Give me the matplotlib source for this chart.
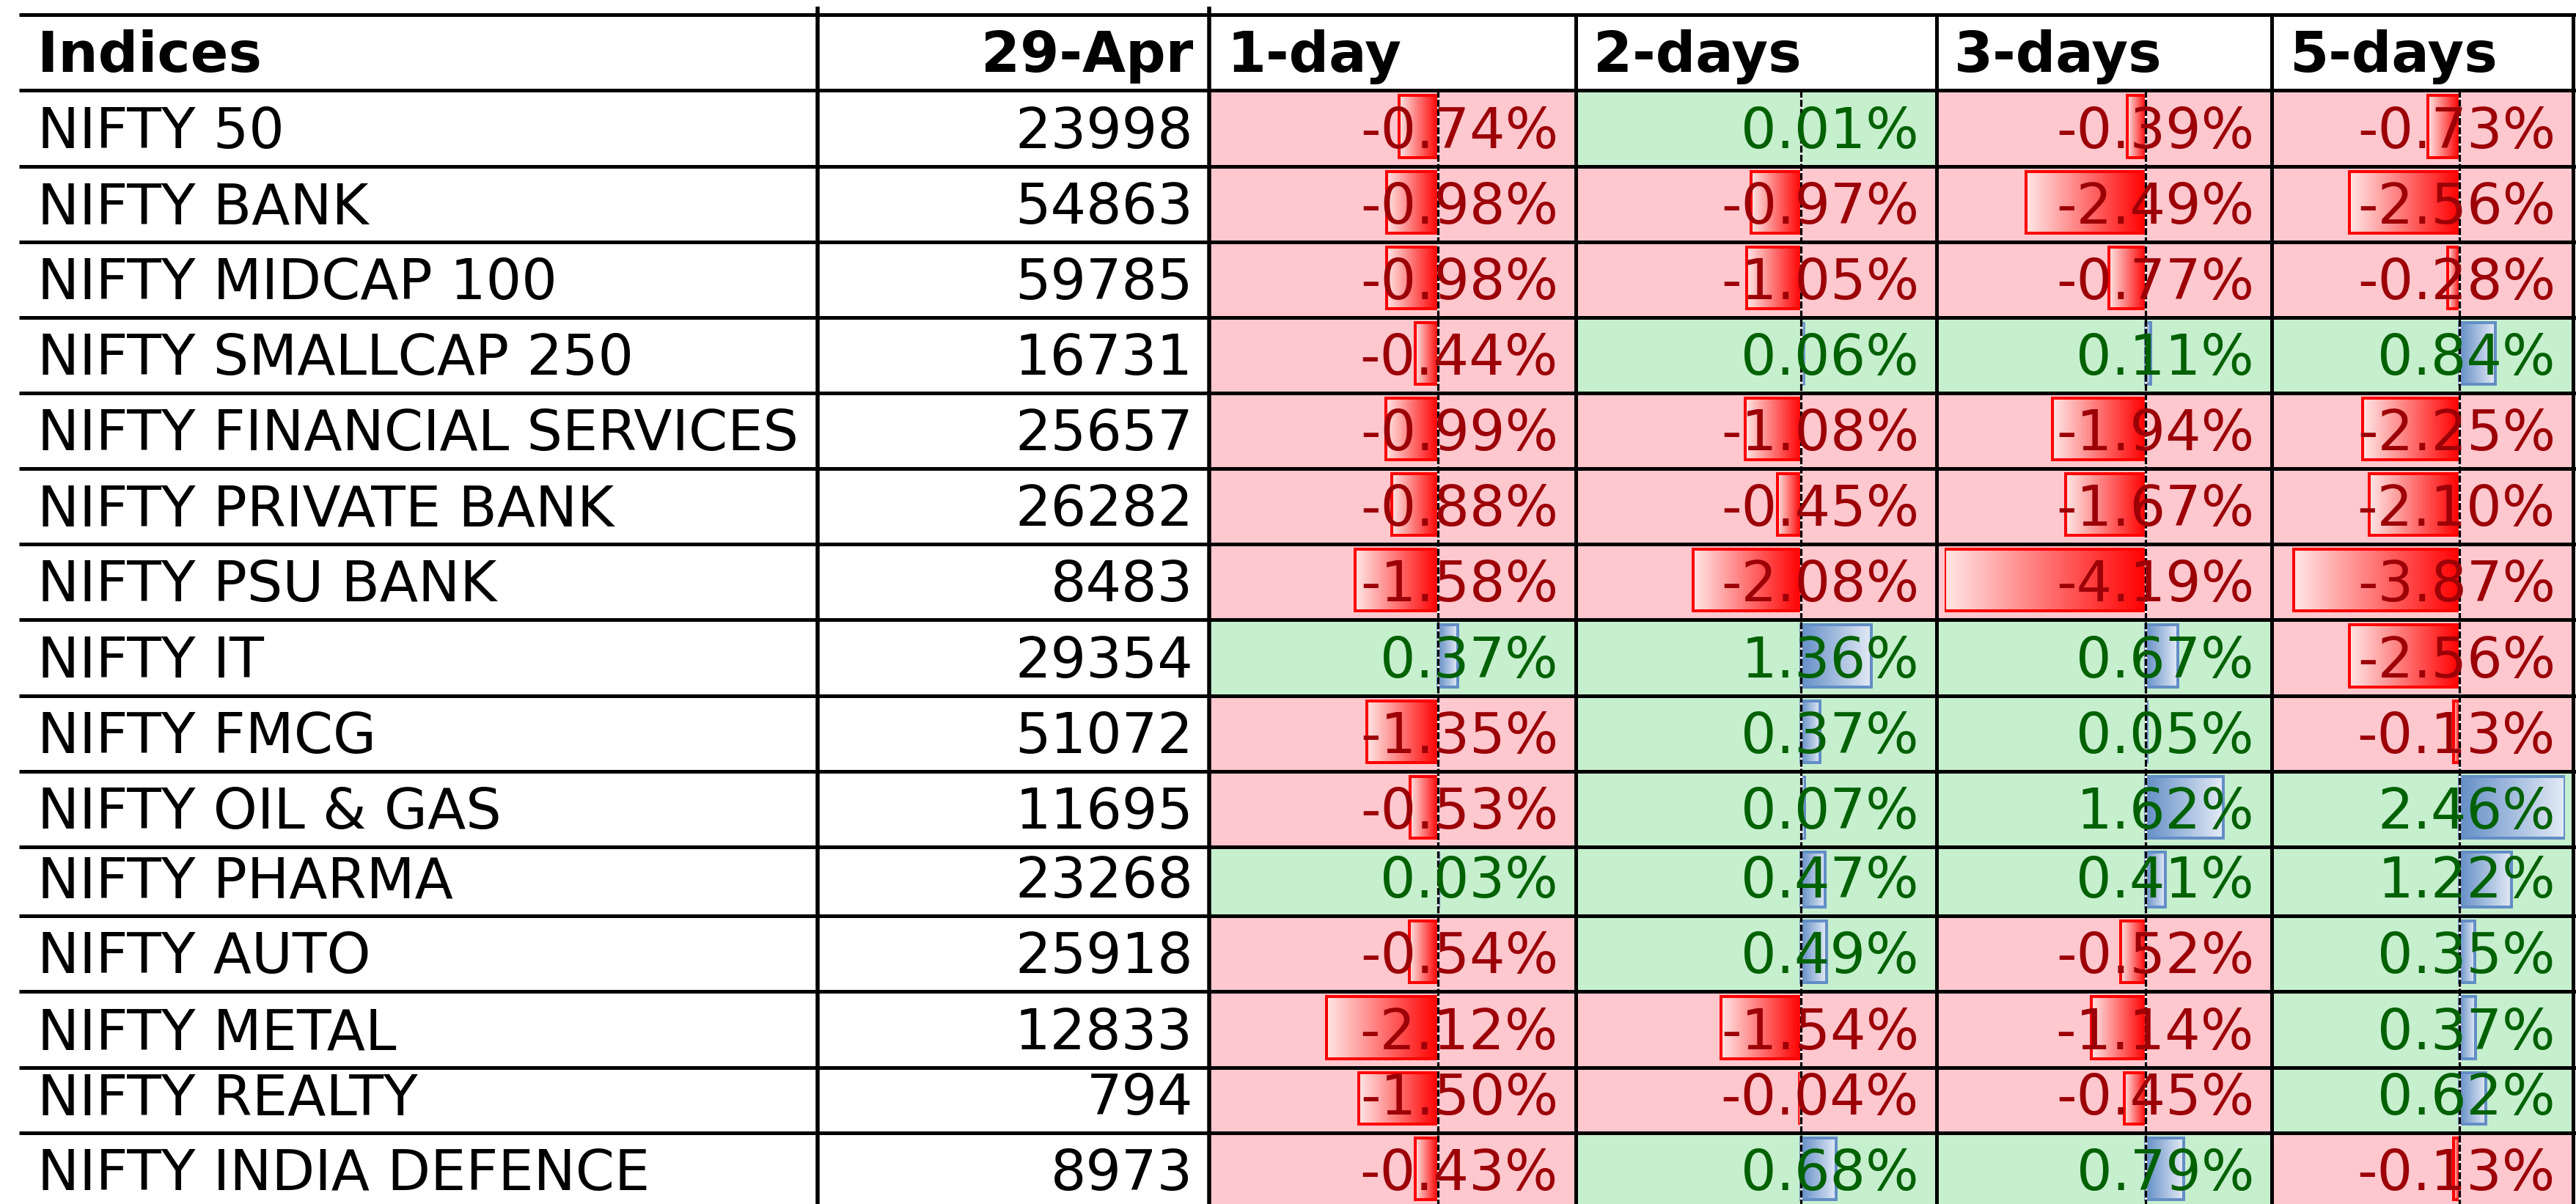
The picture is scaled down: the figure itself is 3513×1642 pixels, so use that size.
import numpy as np
import matplotlib
matplotlib.use("Agg")
import matplotlib.pyplot as plt
from matplotlib.colors import LinearSegmentedColormap
from matplotlib.transforms import Bbox, TransformedBbox
from matplotlib.patches import Rectangle

# ---- data ----
indices = [
    "NIFTY 50", "NIFTY BANK", "NIFTY MIDCAP 100", "NIFTY SMALLCAP 250",
    "NIFTY FINANCIAL SERVICES", "NIFTY PRIVATE BANK", "NIFTY PSU BANK",
    "NIFTY IT", "NIFTY FMCG", "NIFTY OIL & GAS", "NIFTY PHARMA",
    "NIFTY AUTO", "NIFTY METAL", "NIFTY REALTY", "NIFTY INDIA DEFENCE",
]
close_29apr = [23998, 54863, 59785, 16731, 25657, 26282, 8483, 29354,
               51072, 11695, 23268, 25918, 12833, 794, 8973]
chg_1d = [-0.74, -0.98, -0.98, -0.44, -0.99, -0.88, -1.58, 0.37,
          -1.35, -0.53, 0.03, -0.54, -2.12, -1.50, -0.43]
chg_2d = [0.01, -0.97, -1.05, 0.06, -1.08, -0.45, -2.08, 1.36,
          0.37, 0.07, 0.47, 0.49, -1.54, -0.04, 0.68]
chg_3d = [-0.39, -2.49, -0.77, 0.11, -1.94, -1.67, -4.19, 0.67,
          0.05, 1.62, 0.41, -0.52, -1.14, -0.45, 0.79]
chg_5d = [-0.73, -2.56, -0.28, 0.84, -2.25, -2.10, -3.87, -2.56,
          -0.13, 2.46, 1.22, 0.35, 0.37, 0.62, -0.13]
headers = ["Indices", "29-Apr", "1-day", "2-days", "3-days", "5-days"]

changes = [chg_1d, chg_2d, chg_3d, chg_5d]

# ---- layout (pixels) ----
W, H = 3513, 1642
row_lines = [20, 123.3, 226.7, 330, 432.7, 536, 639.3, 742.3, 845.3,
             948.7, 1051.7, 1155, 1249.3, 1352.3, 1456, 1545.3]
last_bottom = 1648
col_lines = [1115, 1649, 2149, 2641, 3098, 3509]
left_edge = 26
pad = 11

PINK, GREEN = "#FFC7CE", "#C6EFCE"
RED_TXT, GREEN_TXT = "#9C0006", "#006100"
BAR_RED, BAR_BLUE = "#FF0000", "#638EC6"
FS = 55
PX = 72 / 100  # points per pixel at dpi 100

plt.rcParams["font.family"] = ["DejaVu Sans"]
plt.rcParams["lines.scale_dashes"] = False

neg_cmap = LinearSegmentedColormap.from_list("neg", ["#FFE6E6", BAR_RED])
pos_cmap = LinearSegmentedColormap.from_list("pos", [BAR_BLUE, "#E4EBF6"])
grad = np.linspace(0, 1, 256).reshape(1, -1)


def row_span(i):
    top = row_lines[i + 1]
    bot = row_lines[i + 2] if i + 2 < len(row_lines) else last_bottom
    return top, bot


fig = plt.figure(figsize=(W / 100, H / 100), dpi=100)
fig.patch.set_facecolor("white")

bg = fig.add_axes([0, 0, 1, 1], zorder=0)
top = fig.add_axes([0, 0, 1, 1], zorder=3)
for a in (bg, top):
    a.set_xlim(0, W)
    a.set_ylim(H, 0)
    a.axis("off")

vmin = min(min(c) for c in changes)
vmax = max(max(c) for c in changes)

for j, col in enumerate(changes):
    cx0, cx1 = col_lines[j + 1], col_lines[j + 2]
    # cell fills
    for i, v in enumerate(col):
        y0, y1 = row_span(i)
        bg.add_patch(Rectangle((cx0, y0), cx1 - cx0, y1 - y0,
                               facecolor=PINK if v < 0 else GREEN,
                               edgecolor="none"))
    # data bars in their own axes, scaled to the common min/max
    x0, x1 = cx0 + pad, cx1 - pad
    bax = fig.add_axes([x0 / W, 0, (x1 - x0) / W, 1], zorder=1)
    px_per_unit = (x1 - x0) / (vmax - vmin)
    for i, v in enumerate(col):
        y0, y1 = row_span(i)
        yt, yb = y0 + 7, y1 - 12
        cmap = neg_cmap if v < 0 else pos_cmap
        bax.imshow(grad, extent=(min(v, 0), max(v, 0), yb, yt),
                   aspect="auto", cmap=cmap, interpolation="bilinear", zorder=2)
        lw_px = min(4.0, abs(v) * px_per_unit * 0.6)
        bax.barh((yt + yb) / 2, v, height=yb - yt, left=0, fill=False,
                 edgecolor=BAR_RED if v < 0 else BAR_BLUE,
                 linewidth=lw_px * PX, zorder=3)
    bax.vlines(0, row_lines[1], H, colors="white", lw=3.2 * PX, zorder=4)
    bax.vlines(0, row_lines[1], H, colors="black", lw=3.2 * PX,
               linestyles=[(0, (7, 2))], zorder=5)
    bax.set_xlim(vmin, vmax)
    bax.set_ylim(H, 0)
    bax.axis("off")

# ---- text ----
hb = row_lines[1] - 25
top.text(51, hb, headers[0], fontsize=FS, fontweight="bold", ha="left", va="baseline")
top.text(col_lines[1] - 22, hb, headers[1], fontsize=FS, fontweight="bold",
         ha="right", va="baseline")
for j in range(4):
    top.text(col_lines[j + 1] + 24, hb, headers[j + 2], fontsize=FS,
             fontweight="bold", ha="left", va="baseline")

name_clip = TransformedBbox(Bbox([[left_edge, 0], [col_lines[0] - 3, H]]), top.transData)
for i, name in enumerate(indices):
    y0, y1 = row_span(i)
    base = y1 - 25
    t = top.text(51, base, name, fontsize=FS, ha="left", va="baseline")
    t.set_clip_box(name_clip)
    t.set_clip_on(True)
    top.text(col_lines[1] - 22, base, f"{close_29apr[i]}", fontsize=FS,
             ha="right", va="baseline")
    for j, col in enumerate(changes):
        v = col[i]
        top.text(col_lines[j + 2] - 24, base, f"{v:.2f}%", fontsize=FS,
                 ha="right", va="baseline",
                 color=RED_TXT if v < 0 else GREEN_TXT)

# ---- grid lines ----
top.hlines(row_lines, left_edge, W, colors="black", lw=5 * PX)
top.vlines(col_lines[:2], 9, H, colors="black", lw=5.5 * PX)
top.vlines(col_lines[2:], row_lines[0], H, colors="black", lw=5 * PX)

fig.savefig("out.png", dpi=100)
plt.close(fig)
